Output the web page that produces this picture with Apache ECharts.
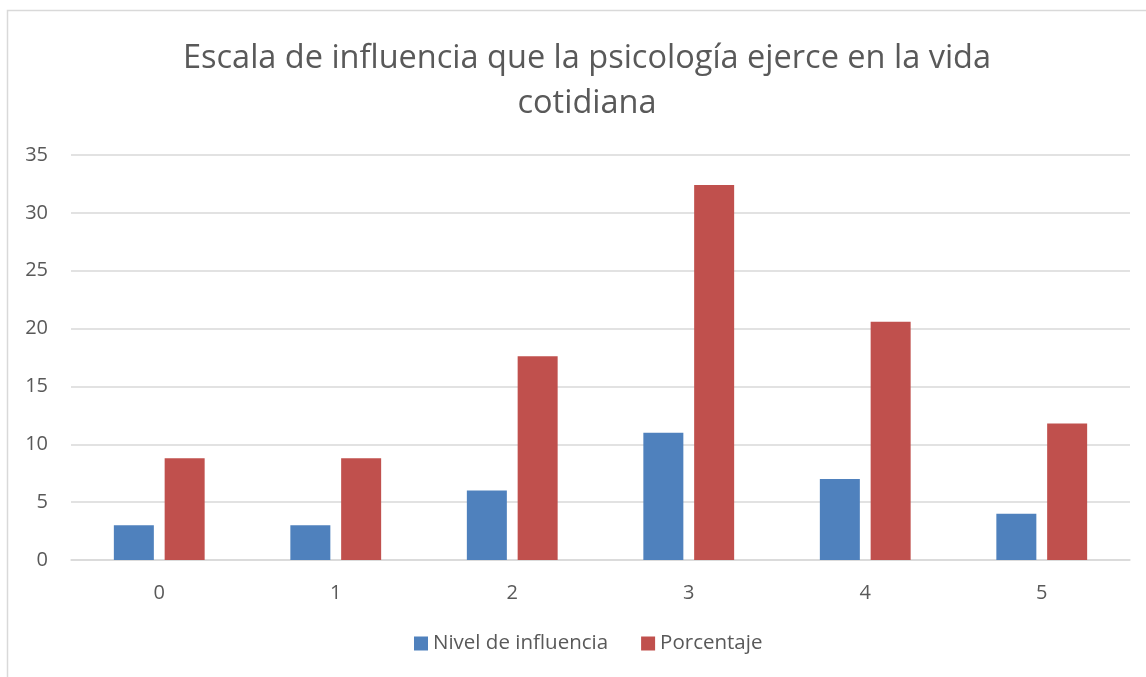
<!DOCTYPE html>
<html>
<head>
<meta charset="utf-8">
<script src="https://cdn.jsdelivr.net/npm/echarts@6/dist/echarts.min.js"></script>
<style>
  html, body { margin: 0; padding: 0; background: #fff; }
  #chart { width: 1146px; height: 677px; }
</style>
</head>
<body>
<div id="chart"></div>
<script>
const categories = ['0', '1', '2', '3', '4', '5']
const nivel = [3, 3, 6, 11, 7, 4]
const porcentaje = [8.8, 8.8, 17.6, 32.4, 20.6, 11.8]
const seriesNames = ['Nivel de influencia', 'Porcentaje']

const textColor = '#595959'
const font = "'Open Sans', sans-serif"

const chart = echarts.init(document.getElementById('chart'))

chart.setOption({
  animation: false,
  textStyle: { fontFamily: font },
  graphic: [
    {
      type: 'rect',
      shape: { x: 7.5, y: 10.5, width: 1200, height: 800 },
      style: { fill: 'none', stroke: '#d9d9d9', lineWidth: 1.5 },
      silent: true
    }
  ],
  title: {
    text: 'Escala de influencia que la psicología ejerce en la vida\ncotidiana',
    left: 582,
    textAlign: 'center',
    top: 31,
    textStyle: {
      fontFamily: font,
      fontSize: 32.5,
      fontWeight: 'normal',
      color: textColor,
      lineHeight: 45
    }
  },
  legend: {
    bottom: 18,
    left: 409,
    itemWidth: 14,
    itemHeight: 14,
    itemGap: 33,
    icon: 'rect',
    textStyle: { fontFamily: font, fontSize: 20.5, color: textColor }
  },
  grid: {
    left: 71,
    right: 16,
    top: 155,
    bottom: 117,
    containLabel: false
  },
  xAxis: {
    type: 'category',
    data: categories,
    axisTick: { show: false },
    axisLine: { lineStyle: { color: '#d9d9d9', width: 1.5 } },
    axisLabel: { color: textColor, fontSize: 20, margin: 23, fontFamily: font }
  },
  yAxis: {
    type: 'value',
    min: 0,
    max: 35,
    interval: 5,
    axisLine: { show: false },
    axisTick: { show: false },
    axisLabel: { color: textColor, fontSize: 20, margin: 23, fontFamily: font },
    splitLine: { lineStyle: { color: '#d9d9d9', width: 1.5 } }
  },
  series: [
    {
      name: seriesNames[0],
      type: 'bar',
      data: nivel,
      barWidth: 40,
      barGap: '27%',
      itemStyle: { color: '#4F81BD' }
    },
    {
      name: seriesNames[1],
      type: 'bar',
      data: porcentaje,
      barWidth: 40,
      itemStyle: { color: '#C0504D' }
    }
  ]
})
</script>
</body>
</html>
